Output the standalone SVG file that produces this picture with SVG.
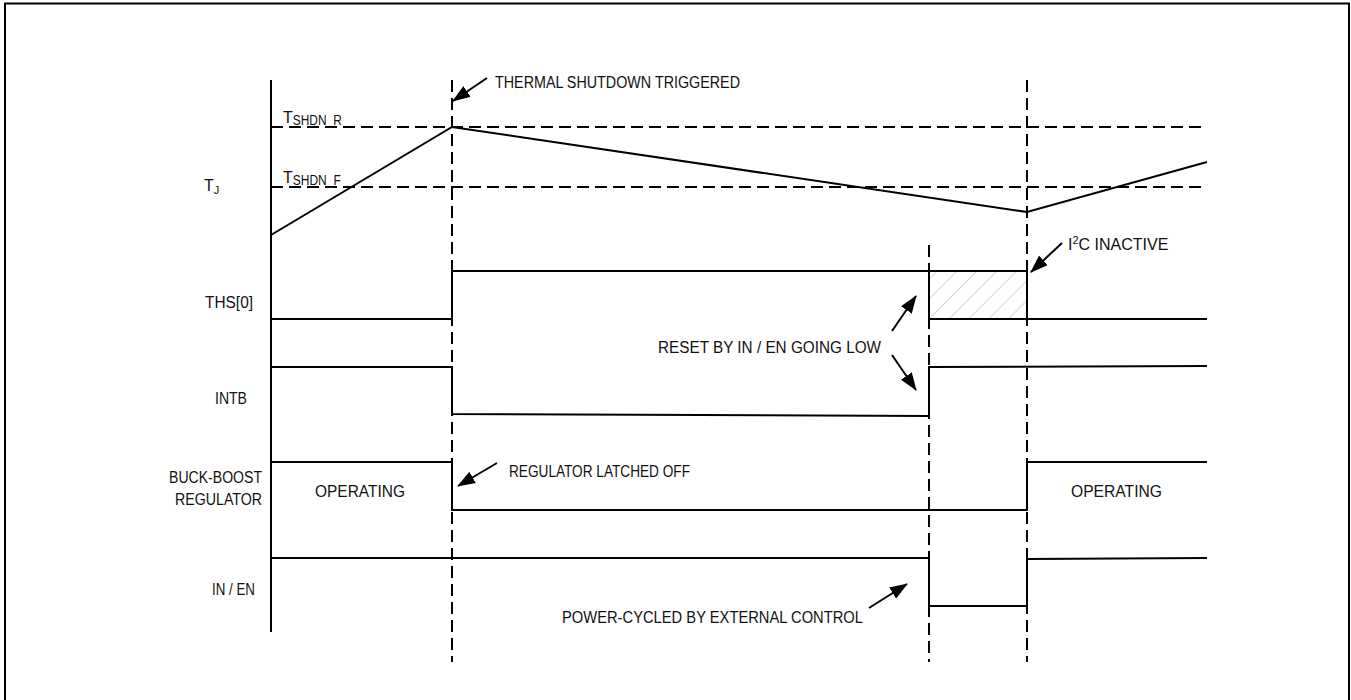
<svg xmlns="http://www.w3.org/2000/svg" width="1351" height="700" viewBox="0 0 1351 700">
<style>
.t{font-family:"Liberation Sans",Arial,sans-serif;font-size:16px;fill:#111}
.s{stroke:#000;stroke-width:2;fill:none}
.d{stroke:#000;stroke-width:2;fill:none;stroke-dasharray:12 6}
</style>
<defs>
<marker id="ah2" viewBox="0 0 18 13" refX="17" refY="6.5" markerWidth="18" markerHeight="13" orient="auto" markerUnits="userSpaceOnUse">
<path d="M0,0 L18,6.5 L0,13 Z" fill="#000"/>
</marker>
<pattern id="hatch" patternUnits="userSpaceOnUse" width="14" height="14" patternTransform="rotate(45)">
<line x1="0" y1="0" x2="0" y2="14" stroke="#bbb" stroke-width="1.2"/>
</pattern>
</defs>
<rect x="5" y="3.5" width="1344" height="710" fill="none" stroke="#000" stroke-width="2"/>

<g id="axes">
<line class="s" x1="271" y1="80" x2="271" y2="632"/>
<line class="d" x1="452" y1="80" x2="452" y2="662"/>
<line class="d" x1="929" y1="245" x2="929" y2="662"/>
<line class="d" x1="1027" y1="80" x2="1027" y2="662"/>
<line class="d" x1="271" y1="127" x2="1207" y2="127"/>
<line class="d" x1="271" y1="187" x2="1207" y2="187"/>
</g>

<g id="tj">
<polyline class="s" points="271,235 452,127 1027,212 1207,162"/>
<text class="t" x="204" y="191">T<tspan font-size="11" dy="3">J</tspan></text>
<text class="t" x="283" y="123">T<tspan font-size="14" dy="2" textLength="49" lengthAdjust="spacingAndGlyphs">SHDN_R</tspan></text>
<text class="t" x="283" y="183">T<tspan font-size="14" dy="2" textLength="48" lengthAdjust="spacingAndGlyphs">SHDN_F</tspan></text>
</g>

<g id="ths">
<rect x="929" y="271" width="98" height="48" fill="url(#hatch)"/>
<polyline class="s" points="271,319 452,319 452,271 1027,271 1027,319"/>
<polyline class="s" points="929,271 929,319 1207,319"/>
<text class="t" x="205" y="308" textLength="48" lengthAdjust="spacingAndGlyphs">THS[0]</text>
</g>

<g id="intb">
<polyline class="s" points="271,367 452,367 452,414 929,416 929,367 1207,366"/>
<text class="t" x="215" y="404" textLength="32" lengthAdjust="spacingAndGlyphs">INTB</text>
</g>

<g id="buck">
<polyline class="s" points="271,462 452,462 452,510 1027,510 1027,462 1207,462"/>
<text class="t" x="169" y="483" textLength="93" lengthAdjust="spacingAndGlyphs">BUCK-BOOST</text>
<text class="t" x="175" y="505" textLength="87" lengthAdjust="spacingAndGlyphs">REGULATOR</text>
<text class="t" x="315" y="497" textLength="90" lengthAdjust="spacingAndGlyphs">OPERATING</text>
<text class="t" x="1071" y="497" textLength="91" lengthAdjust="spacingAndGlyphs">OPERATING</text>
</g>

<g id="inen">
<polyline class="s" points="271,558 929,558 929,606 1027,606 1027,559 1207,558"/>
<text class="t" x="212" y="595" textLength="43" lengthAdjust="spacingAndGlyphs">IN / EN</text>
</g>

<g id="connectors">
<line class="s" marker-end="url(#ah2)" x1="487" y1="78" x2="453" y2="101"/>
<line class="s" marker-end="url(#ah2)" x1="1062" y1="243" x2="1031" y2="272"/>
<line class="s" marker-end="url(#ah2)" x1="892" y1="331" x2="916" y2="296"/>
<line class="s" marker-end="url(#ah2)" x1="892" y1="355" x2="916" y2="390"/>
<line class="s" marker-end="url(#ah2)" x1="497" y1="463" x2="458" y2="486"/>
<line class="s" marker-end="url(#ah2)" x1="869" y1="608" x2="907" y2="584"/>
</g>

<g id="labels">
<text class="t" x="495" y="88" textLength="245" lengthAdjust="spacingAndGlyphs">THERMAL SHUTDOWN TRIGGERED</text>
<text class="t" x="1068" y="250">I<tspan font-size="11" dy="-6">2</tspan><tspan dy="6">C INACTIVE</tspan></text>
<text class="t" x="658" y="353" textLength="223" lengthAdjust="spacingAndGlyphs">RESET BY IN / EN GOING LOW</text>
<text class="t" x="509" y="477" textLength="181" lengthAdjust="spacingAndGlyphs">REGULATOR LATCHED OFF</text>
<text class="t" x="562" y="623" textLength="301" lengthAdjust="spacingAndGlyphs">POWER-CYCLED BY EXTERNAL CONTROL</text>
</g>
</svg>
